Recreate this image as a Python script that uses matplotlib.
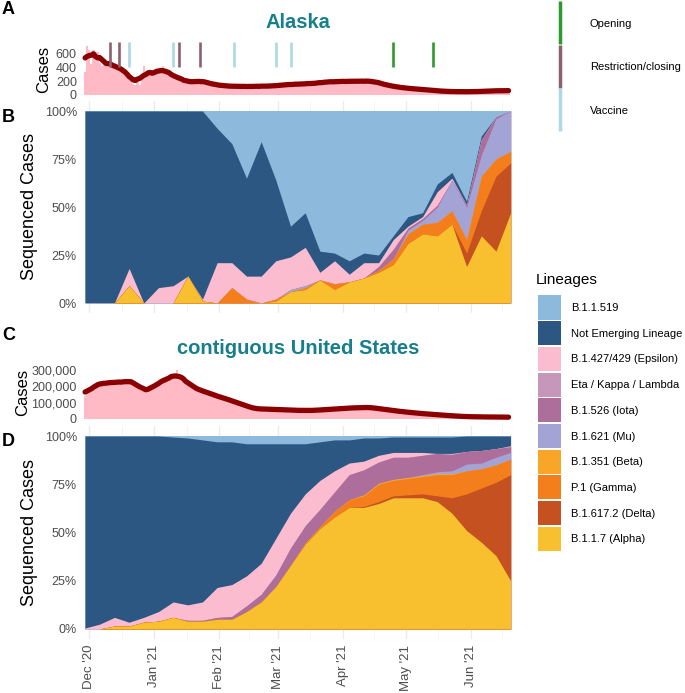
import numpy as np
import pandas as pd
import matplotlib
matplotlib.use("Agg")
import matplotlib.pyplot as plt
import matplotlib.dates as mdates
from matplotlib.patches import Rectangle
from matplotlib.lines import Line2D
from matplotlib.ticker import FuncFormatter

plt.rcParams["font.family"] = ["Liberation Sans", "DejaVu Sans"]

W, H = 685, 693

# daily case counts, 29 Nov 2020 - 19 Jun 2021
days = pd.date_range("2020-11-29", "2021-06-19", freq="D")
# weekly sequencing bins
weeks = pd.date_range("2020-11-29", periods=30, freq="7D")

ak_cases = [
    330, 700, 640, 450, 640, 620, 610,
    460, 420, 520, 470, 450, 430, 410,
    440, 400, 370, 400, 350, 330, 320,
    290, 250, 160, 150, 190, 140, 280,
    420, 320, 300, 310, 280, 300, 330,
    340, 380, 420, 350, 320, 300, 280,
    270, 300, 250, 230, 220, 210, 200,
    190, 180, 200, 170, 190, 200, 210,
    200, 190, 180, 170, 160, 150, 150,
    140, 150, 130, 135, 125, 130, 120,
    130, 120, 125, 130, 115, 125, 120,
    120, 125, 130, 115, 125, 120, 130,
    125, 130, 120, 135, 125, 130, 125,
    135, 140, 130, 150, 145, 140, 155,
    150, 160, 145, 155, 150, 165, 155,
    160, 170, 155, 165, 175, 160, 170,
    180, 175, 190, 185, 180, 195, 185,
    190, 200, 185, 195, 190, 205, 190,
    200, 190, 195, 205, 190, 200, 195,
    205, 190, 200, 195, 205, 190, 185,
    175, 165, 160, 150, 140, 135, 125,
    130, 120, 115, 110, 105, 100, 95,
    100, 95, 90, 88, 85, 82, 80,
    80, 78, 75, 70, 68, 65, 62,
    60, 58, 55, 55, 52, 50, 50,
    50, 48, 47, 48, 46, 48, 47,
    47, 48, 46, 49, 48, 47, 50,
    52, 54, 55, 57, 56, 58, 60,
    60, 62, 61, 63, 60, 62, 64,
]

# contiguous US, thousands of cases per day
us_cases_k = [
    140, 160, 170, 190, 200, 210, 225,
    205, 215, 225, 220, 215, 225, 230,
    220, 225, 230, 225, 220, 235, 225,
    230, 235, 230, 225, 215, 180, 170,
    175, 185, 190, 180, 175, 200, 215,
    225, 230, 240, 235, 240, 250, 255,
    260, 275, 300, 255, 250, 240, 235,
    225, 210, 200, 195, 185, 180, 175,
    170, 168, 165, 160, 155, 150, 145,
    140, 135, 130, 128, 125, 122, 118,
    112, 106, 100, 98, 94, 90, 86,
    80, 75, 70, 66, 64, 62, 60,
    62, 61, 62, 60, 61, 60, 59,
    59, 58, 57, 58, 56, 57, 55,
    55, 54, 53, 54, 52, 53, 52,
    52, 53, 51, 52, 53, 54, 53,
    55, 56, 58, 57, 59, 58, 60,
    61, 62, 64, 63, 65, 66, 65,
    67, 68, 69, 68, 70, 69, 70,
    72, 71, 72, 70, 69, 67, 66,
    64, 62, 60, 59, 57, 55, 54,
    52, 50, 48, 47, 45, 44, 43,
    42, 40, 39, 38, 36, 35, 34,
    33, 32, 31, 30, 29, 28, 27,
    26, 25, 24, 23, 22, 21, 21,
    20, 19, 18, 17, 16, 16, 15,
    15, 14, 14, 14, 13, 13, 13,
    13, 13, 12, 13, 12, 12, 12,
    12, 12, 11, 12, 11, 11, 11,
]

# Alaska policy / vaccine events
opening = ["2021-04-25", "2021-05-14"]
restriction = ["2020-12-11", "2020-12-15", "2021-01-13", "2021-01-23"]
vaccine = ["2020-12-20", "2021-01-10", "2021-02-08", "2021-02-28", "2021-03-07"]

# lineage shares (% of sequenced cases per week)
ak_b11519 = [0, 0, 0, 0, 0, 0, 0, 0, 0, 9, 17, 35, 16, 36, 60, 53, 73, 74, 78, 74, 75, 65, 55, 53, 38, 32, 47, 13, 3, 0]
ak_not_emerging = [100, 100, 100, 82, 100, 92, 91, 86, 98, 70, 62, 51, 70, 42, 16, 18, 11, 4, 7, 5, 4, 2, 5, 2, 4, 3, 2, 2, 0, 0]
ak_epsilon = [0, 0, 0, 9, 0, 8, 9, 0, 1, 21, 13, 12, 14, 20, 17, 20, 4, 12, 4, 8, 2, 5, 1, 1, 7, 1, 0, 0, 0, 0]
ak_eta = [0, 0, 0, 0, 0, 0, 0, 0, 0, 0, 0, 0, 0, 0, 0, 0, 0, 0, 0, 0, 0, 0, 0, 0, 0, 0, 0, 0, 0, 0]
ak_iota = [0, 0, 0, 0, 0, 0, 0, 0, 0, 0, 0, 0, 0, 0, 0, 0, 0, 0, 0, 0, 2, 5, 1, 1, 1, 0, 1, 8, 1, 0]
ak_mu = [0, 0, 0, 0, 0, 0, 0, 0, 0, 0, 0, 0, 0, 0, 1, 1, 0, 0, 0, 0, 0, 0, 2, 2, 8, 16, 17, 11, 21, 21]
ak_beta = [0, 0, 0, 0, 0, 0, 0, 0, 0, 0, 0, 0, 0, 0, 0, 0, 0, 0, 0, 0, 0, 0, 0, 0, 0, 0, 0, 0, 0, 0]
ak_gamma = [0, 0, 0, 0, 0, 0, 0, 0, 0, 0, 8, 2, 0, 1, 0, 1, 0, 3, 0, 0, 1, 3, 5, 5, 7, 7, 7, 18, 9, 6]
ak_delta = [0, 0, 0, 0, 0, 0, 0, 0, 0, 0, 0, 0, 0, 0, 0, 0, 0, 0, 0, 0, 0, 0, 0, 0, 0, 0, 7, 13, 39, 26]
ak_alpha = [0, 0, 0, 9, 0, 0, 0, 14, 1, 0, 0, 0, 0, 1, 6, 7, 12, 7, 11, 13, 16, 20, 31, 36, 35, 41, 19, 35, 27, 47]

us_b11519 = [0, 0, 0, 0, 0, 0, 0.5, 1, 2, 3, 3, 4, 4, 4, 4, 4, 3, 2, 2, 1, 1, 0.5, 0.5, 0.5, 0.5, 0.5, 0, 0, 0, 0]
us_not_emerging = [99.5, 97.5, 94, 96.5, 94, 91, 85.5, 86.5, 84, 75.5, 74, 68.5, 62, 49, 36, 26, 20, 16, 12, 12, 9, 8, 8, 8, 8.5, 8.5, 8, 7.5, 6.5, 5]
us_epsilon = [0.5, 2.5, 4.5, 2, 2.5, 5, 8, 8, 9.5, 15.5, 16.5, 15.5, 16, 19, 18, 16.5, 15, 11, 6, 4.5, 3.5, 2.5, 2.5, 1.5, 0, 0.5, 0, 0, 0, 0.5]
us_eta = [0, 0, 0, 0, 0, 0, 0, 0, 0, 0, 0, 0, 0, 0, 0, 0, 0, 0, 0, 0, 0, 0, 0, 0, 0, 0, 0, 0, 0, 0]
us_iota = [0, 0, 0, 0, 0, 0, 0, 0.5, 0.5, 1, 1.5, 3, 4, 6, 9, 9, 9, 10, 13, 13, 11, 11.5, 10.5, 10, 9.5, 8.5, 6.5, 6.5, 4.5, 3]
us_mu = [0, 0, 0, 0, 0, 0, 0, 0, 0, 0, 0, 0, 0, 0, 0, 0, 0, 0, 0, 0, 0, 0, 0, 0.5, 1, 1.5, 3.5, 3, 4, 3.5]
us_beta = [0, 0, 0, 0, 0, 0, 0, 0, 0, 0, 0, 0, 0, 0, 0, 0, 0, 0, 0, 0.5, 0.5, 0.5, 0.5, 0.5, 0.5, 0.5, 0, 0, 0, 0]
us_gamma = [0, 0, 0, 0, 0, 0, 0, 0, 0, 0, 0, 0, 0, 0, 0, 0.5, 1, 3, 4, 5.5, 9, 8, 8.5, 9, 11, 12, 12, 10, 9, 8]
us_delta = [0, 0, 0, 0, 0, 0, 0, 0, 0, 0, 0, 0, 0, 0, 0, 0, 0, 0, 0, 0.5, 1, 1, 1.5, 2, 3, 8, 19, 28, 38, 55]
us_alpha = [0, 0, 1.5, 1.5, 3.5, 4, 6, 4, 4, 5, 5, 9, 14, 22, 33, 44, 52, 58, 63, 63, 65, 68, 68, 68, 66, 60, 51, 45, 38, 25]

# legend order (top of stack first)
lineage_names = ["B.1.1.519", "Not Emerging Lineage", "B.1.427/429 (Epsilon)",
                 "Eta / Kappa / Lambda", "B.1.526 (Iota)", "B.1.621 (Mu)",
                 "B.1.351 (Beta)", "P.1 (Gamma)", "B.1.617.2 (Delta)", "B.1.1.7 (Alpha)"]
lineage_colors = ["#8CB9DC", "#2C5783", "#FBBCCF", "#C697BB", "#AD6E9B",
                  "#A3A3D5", "#F9A628", "#F37E1B", "#C4511F", "#F8BF2F"]

event_colors = {"Opening": "#2E9A2E", "Restriction/closing": "#8E606C", "Vaccine": "#ADD8E6"}

teal = "#167F8C"
grey = "#4D4D4D"


def rect(l, t, r, b):
    return [l / W, 1 - b / H, (r - l) / W, (b - t) / H]


def ftext(x, y, s, **kw):
    fig.text(x / W, 1 - y / H, s, **kw)


fig = plt.figure(figsize=(W / 100, H / 100), dpi=100)

x0 = mdates.date2num(pd.Timestamp("2020-11-29")) - 1.8
x1 = mdates.date2num(pd.Timestamp("2021-06-20")) + 1.8
month_starts = pd.date_range("2020-11-01", "2021-07-01", freq="MS")
mnum = mdates.date2num(month_starts)
mid_months = (mnum[:-1] + mnum[1:]) / 2

L, R = 81.3, 514.4


def style(ax):
    ax.set_xlim(x0, x1)
    for s in ax.spines.values():
        s.set_visible(False)
    ax.tick_params(length=0, labelsize=9, labelcolor=grey, pad=3.2)
    ax.set_facecolor("none")


def cases_panel(ax, cases, ymin, ymax, ticks, fmt):
    style(ax)
    cases = np.asarray(cases, dtype=float)
    smooth = pd.Series(cases).rolling(7, center=True, min_periods=1).mean()
    ax.bar(days, cases, width=1.0, color="#FFBAC6", linewidth=0, zorder=1)
    ax.plot(days, smooth, color="#8B0000", lw=3.8, solid_capstyle="round", zorder=3)
    ax.set_ylim(ymin, ymax)
    ax.set_yticks(ticks)
    ax.yaxis.set_major_formatter(FuncFormatter(fmt))
    ax.set_xticks([])


def lineage_panel(ax, shares, show_x):
    style(ax)
    ax.set_axisbelow(True)
    for m in mnum:
        ax.axvline(m, color="#EBEBEB", lw=1.0, zorder=0)
    for m in mid_months:
        ax.axvline(m, color="#F2F2F2", lw=0.6, zorder=0)
    data = np.array(shares, dtype=float)
    data = data / data.sum(axis=0) * 100
    # stack from the bottom layer (last in legend) upwards
    stack = data[::-1]
    tops = np.cumsum(stack, axis=0)
    cols = lineage_colors[::-1]
    for i in range(len(stack) - 1, -1, -1):
        ax.fill_between(weeks, 0, tops[i], color=cols[i], lw=0, zorder=2)
    ax.set_ylim(-5, 105)
    ax.set_yticks([0, 25, 50, 75, 100])
    ax.set_yticklabels(["0%", "25%", "50%", "75%", "100%"])
    ax.set_xticks(mnum[1:-1])
    if show_x:
        ax.set_xticklabels([d.strftime("%b '%y") for d in month_starts[1:-1]],
                           rotation=90, fontsize=9.5, va="top")
        ax.tick_params(axis="x", pad=4.6)
    else:
        ax.set_xticklabels([])


# panel A
axA = fig.add_axes(rect(L, 40, R, 97))
cases_panel(axA, ak_cases, -28.6, 786, [0, 200, 400, 600], lambda v, p: f"{int(v)}")
for kind, dates in [("Opening", opening), ("Restriction/closing", restriction), ("Vaccine", vaccine)]:
    axA.vlines(pd.to_datetime(dates), 400, 757, color=event_colors[kind], lw=1.9, zorder=4)

# panel B
axB = fig.add_axes(rect(L, 101.4, R, 312.6))
lineage_panel(axB, [ak_b11519, ak_not_emerging, ak_epsilon, ak_eta, ak_iota, ak_mu,
                    ak_beta, ak_gamma, ak_delta, ak_alpha], False)

# panel C
axC = fig.add_axes(rect(L, 362, R, 422))
cases_panel(axC, np.array(us_cases_k) * 1000, -18400, 349000,
            [0, 100000, 200000, 300000], lambda v, p: f"{int(v):,}")

# panel D
axD = fig.add_axes(rect(L, 426.4, R, 638.6))
lineage_panel(axD, [us_b11519, us_not_emerging, us_epsilon, us_eta, us_iota, us_mu,
                    us_beta, us_gamma, us_delta, us_alpha], True)

# titles, axis labels, panel letters
ftext(298, 23, "Alaska", ha="center", va="center", fontsize=14.5, fontweight="bold", color=teal)
ftext(298, 348, "contiguous United States", ha="center", va="center", fontsize=14.5,
      fontweight="bold", color=teal)
ftext(44, 69, "Cases", rotation=90, ha="center", va="center", fontsize=12)
ftext(22.5, 392, "Cases", rotation=90, ha="center", va="center", fontsize=12)
ftext(30, 207, "Sequenced Cases", rotation=90, ha="center", va="center", fontsize=13)
ftext(30, 532, "Sequenced Cases", rotation=90, ha="center", va="center", fontsize=13)
for letter, y in [("A", 10), ("B", 118), ("C", 336), ("D", 442)]:
    ftext(2, y, letter, ha="left", va="center", fontsize=13, fontweight="bold")

# event legend
for i, kind in enumerate(["Opening", "Restriction/closing", "Vaccine"]):
    top = 1 + i * 43.5
    fig.add_artist(Line2D([560 / W, 560 / W], [1 - top / H, 1 - (top + 43) / H],
                          transform=fig.transFigure, color=event_colors[kind], lw=2.5,
                          solid_capstyle="butt"))
    ftext(590, top + 23, kind, ha="left", va="center", fontsize=8)

# lineage legend
ftext(536, 280, "Lineages", ha="left", va="center", fontsize=11)
for i, (name, col) in enumerate(zip(lineage_names, lineage_colors)):
    top = 295.5 + 25.7 * i
    fig.add_artist(Rectangle((537.5 / W, 1 - (top + 24) / H), 23 / W, 24 / H,
                             transform=fig.transFigure, facecolor=col, edgecolor="none"))
    ftext(571, top + 12.5, name, ha="left", va="center", fontsize=8)

fig.savefig("out.png", dpi=100)
